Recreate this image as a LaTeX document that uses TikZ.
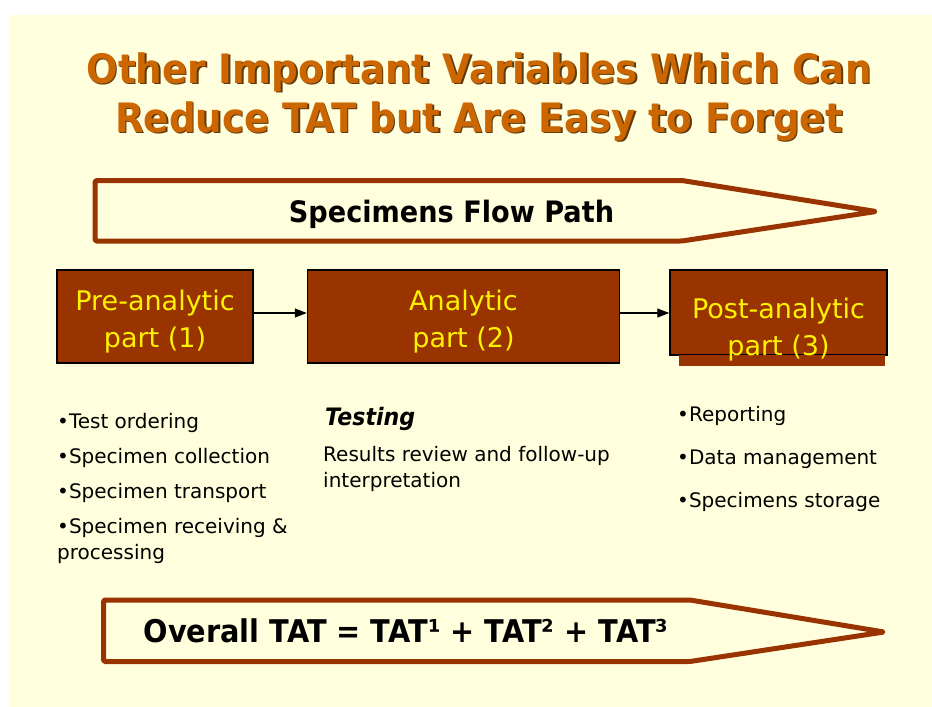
\documentclass[tikz,border=0pt]{standalone}
\usepackage{fontspec}
\setmainfont{DejaVu Sans}[BoldFeatures={FakeStretch=0.92},BoldItalicFeatures={FakeStretch=0.92}]
\usepackage{xcolor}
\usetikzlibrary{arrows.meta,positioning}
\definecolor{paper}{HTML}{FFFFDD}
\definecolor{rust}{HTML}{993300}
\definecolor{heading}{HTML}{CC6600}
\definecolor{headshade}{HTML}{5C3A12}

\begin{document}
\begin{tikzpicture}[x=1pt, y=-1pt,
	title/.style={align=center, anchor=base, inner sep=0pt, text=heading, font=\fontsize{40.5}{49}\selectfont\bfseries},
	phase/.style={draw=black, line width=1.5pt, fill=rust, text=yellow, align=center, inner sep=0pt, font=\fontsize{27}{37}\selectfont, text height=68pt, text depth=7pt},
	flow/.style={draw=rust, line width=5pt, fill=paper, line join=round, rounded corners=1.5pt},
	big/.style={anchor=base, inner sep=0pt, font=\fontsize{29.5}{36}\selectfont\bfseries},
	notes/.style={anchor=base west, align=left, inner sep=0pt, font=\fontsize{20}{26}\selectfont},
	go/.style={-{Triangle[length=12pt,width=9pt]}, line width=1.2pt}]
	\useasboundingbox (0,0) rectangle (932,707);
	\fill[paper] (9,15) rectangle (932,707);
	% title
	\node[title, text=headshade] (titleshade) at (480.5,133.5) {Other Important Variables Which Can\\Reduce TAT but Are Easy to Forget};
	\node[title] (title) at (479,132) {Other Important Variables Which Can\\Reduce TAT but Are Easy to Forget};
	% flow path
	\draw[flow] (95,180.5) -- (682,180.5) -- (876,211.5) -- (682,241) -- (95,241) -- cycle;
	\node[big] (flowpath) at (451.5,222) {Specimens Flow Path};
	% the three parts
	\node[phase, minimum width=196pt, minimum height=93pt] (pre) at (155,316.5) {Pre-analytic\\part (1)};
	\node[phase, minimum width=312pt, minimum height=93pt, right=53pt of pre] (ana) {Analytic\\part (2)};
	\node[phase, minimum width=217pt, minimum height=85pt, right=49pt of ana, yshift=4pt] (post) {};
	\fill[rust] ([xshift=10pt,yshift=1pt]post.south west) rectangle ([xshift=-3pt,yshift=-10pt]post.south east);
	\node[phase, draw=none, fill=none, minimum height=85pt, text height=85pt, text depth=0pt] (posttext) at (post) {Post-analytic\\part (3)};
	\draw[go] ([yshift=3.5pt]pre.east) -- ([yshift=3.5pt]pre.east -| ana.west);
	\draw[go] ([yshift=-0.5pt]post.west -| ana.east) -- ([yshift=-0.5pt]post.west);
	% what belongs to each part
	\node[notes] (prelist) at (57,559) {•Test ordering\\[9pt]•Specimen collection\\[9pt]•Specimen transport\\[9pt]•Specimen receiving \&\\processing};
	\node[notes, font=\fontsize{24}{26}\selectfont\bfseries\itshape] (testing) at (325,425) {Testing};
	\node[notes] (anatext) at (323,487) {Results review and follow-up\\interpretation};
	\node[notes, font=\fontsize{20}{43}\selectfont] (postlist) at (677,507) {•Reporting\\•Data management\\•Specimens storage};
	% overall
	\draw[flow] (103.5,600) -- (690,600) -- (884,632) -- (690,661.5) -- (103.5,661.5) -- cycle;
	\node[big, font=\fontsize{31.3}{36}\selectfont\bfseries] (overall) at (406,642) {Overall TAT = TAT¹ + TAT² + TAT³};
\end{tikzpicture}
\end{document}
